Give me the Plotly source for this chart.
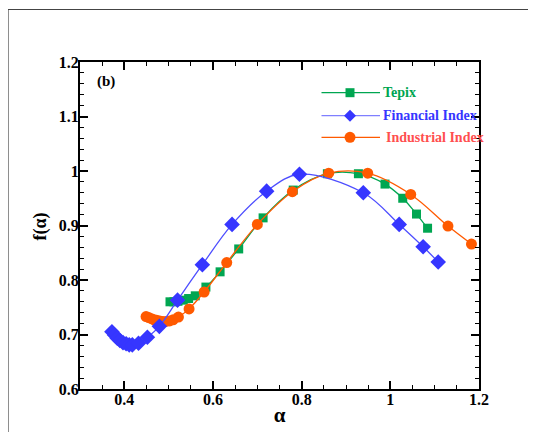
import plotly.graph_objects as go

# ---- data ----
tepix_alpha = [0.503, 0.512, 0.521, 0.533, 0.545, 0.560, 0.584, 0.616, 0.658, 0.713,
               0.781, 0.858, 0.928, 0.988, 1.028, 1.059, 1.084]
tepix_f = [0.760, 0.760, 0.761, 0.763, 0.766, 0.771, 0.787, 0.815, 0.857, 0.914,
           0.965, 0.995, 0.995, 0.976, 0.950, 0.921, 0.895]

fin_alpha = [0.372, 0.378, 0.384, 0.390, 0.397, 0.404, 0.411, 0.418, 0.432, 0.452,
             0.479, 0.520, 0.576, 0.643, 0.721, 0.795, 0.939, 1.020, 1.074, 1.108]
fin_f = [0.705, 0.699, 0.693, 0.689, 0.685, 0.683, 0.681, 0.681, 0.684, 0.695,
         0.715, 0.763, 0.828, 0.902, 0.963, 0.994, 0.960, 0.902, 0.861, 0.833]

ind_alpha = [0.449, 0.455, 0.461, 0.467, 0.473, 0.480, 0.487, 0.494, 0.502, 0.510,
             0.522, 0.546, 0.580, 0.631, 0.700, 0.779, 0.861, 0.949, 1.046, 1.130, 1.183]
ind_f = [0.733, 0.731, 0.729, 0.727, 0.726, 0.725, 0.724, 0.724, 0.725, 0.727,
         0.732, 0.747, 0.778, 0.832, 0.902, 0.962, 0.996, 0.996, 0.957, 0.899, 0.866]

x_ticks = [0.4, 0.6, 0.8, 1.0, 1.2]
x_tick_labels = ["0.4", "0.6", "0.8", "1", "1.2"]
y_ticks = [0.6, 0.7, 0.8, 0.9, 1.0, 1.1, 1.2]
y_tick_labels = ["0.6", "0.7", "0.8", "0.9", "1", "1.1", "1.2"]

series_names = ["Tepix", "Financial Index", "Industrial Index"]
x_title = "α"
y_title = "f(α)"
panel_label = "(b)"

GREEN = "#00A651"
BLUE = "#3636FF"
BLUE_LINE = "#4E4EFF"
ORANGE = "#FF5A00"
IND_TEXT = "#FF4F4F"
FONT = "Times New Roman, Liberation Serif, serif"

fig = go.Figure()
fig.add_trace(go.Scatter(x=tepix_alpha, y=tepix_f, mode="lines+markers",
                         line=dict(color=GREEN, width=1.3, shape="spline"),
                         marker=dict(symbol="square", size=9, color=GREEN),
                         name=series_names[0], showlegend=False, cliponaxis=False))
fig.add_trace(go.Scatter(x=ind_alpha, y=ind_f, mode="lines+markers",
                         line=dict(color=ORANGE, width=1.3, shape="spline"),
                         marker=dict(symbol="circle", size=11, color=ORANGE),
                         name=series_names[2], showlegend=False, cliponaxis=False))
fig.add_trace(go.Scatter(x=fin_alpha, y=fin_f, mode="lines+markers",
                         line=dict(color=BLUE_LINE, width=1.3, shape="spline"),
                         marker=dict(symbol="diamond", size=12, color=BLUE),
                         name=series_names[1], showlegend=False, cliponaxis=False))

# page has an 8px body margin; positions below are window pixels
OFF = 8
W, H = 536, 432
L, R, T, B = 80 - OFF, 479 - OFF, 62 - OFF, 389 - OFF


def px(x):
    return (x - OFF - L) / (R - L)


def py(y):
    return (B - (y - OFF)) / (B - T)


shapes = []
annotations = []

# outer frame
shapes.append(dict(type="rect", xref="paper", yref="paper",
                   x0=px(8), x1=px(580), y0=py(470), y1=py(9.5),
                   line=dict(color="#444444", width=1.2), fillcolor="rgba(0,0,0,0)", layer="below"))

# custom legend
leg_rows = [92.7, 115.7, 137.3]
leg_line_colors = [GREEN, "#7F7FFF", ORANGE]
leg_marker_colors = [GREEN, BLUE, ORANGE]
leg_text_colors = [GREEN, BLUE, IND_TEXT]
leg_text_x = [380.5, 380.5, 383.5]
for i, yy in enumerate(leg_rows):
    shapes.append(dict(type="line", xref="paper", yref="paper",
                       x0=px(321.5), x1=px(380), y0=py(yy), y1=py(yy),
                       line=dict(color=leg_line_colors[i], width=1.3)))
    if i == 0:
        shapes.append(dict(type="rect", xref="paper", yref="paper",
                           xsizemode="pixel", ysizemode="pixel",
                           xanchor=px(350), yanchor=py(yy),
                           x0=-4.5, x1=4.5, y0=-4.5, y1=4.5,
                           fillcolor=leg_marker_colors[i], line=dict(width=0)))
    elif i == 1:
        shapes.append(dict(type="path", xref="paper", yref="paper",
                           xsizemode="pixel", ysizemode="pixel",
                           xanchor=px(350), yanchor=py(yy),
                           path="M-6,0 L0,6 L6,0 L0,-6 Z",
                           fillcolor=leg_marker_colors[i], line=dict(width=0)))
    else:
        shapes.append(dict(type="circle", xref="paper", yref="paper",
                           xsizemode="pixel", ysizemode="pixel",
                           xanchor=px(350), yanchor=py(yy),
                           x0=-5.5, x1=5.5, y0=-5.5, y1=5.5,
                           fillcolor=leg_marker_colors[i], line=dict(width=0)))
    annotations.append(dict(xref="paper", yref="paper", x=px(leg_text_x[i]), y=py(yy),
                            xanchor="left", yanchor="middle", showarrow=False,
                            text="<b>%s</b>" % series_names[i],
                            font=dict(family=FONT, size=14, color=leg_text_colors[i])))

annotations.append(dict(xref="paper", yref="paper", x=px(95), y=py(81),
                        xanchor="left", yanchor="middle", showarrow=False,
                        text="<b>%s</b>" % panel_label, font=dict(family=FONT, size=15, color="black")))

# y-axis title placed as rotated text
annotations.append(dict(xref="paper", yref="paper", x=px(39.5), y=py(227),
                        xanchor="center", yanchor="middle", showarrow=False, textangle=-90,
                        text="<b>%s</b>" % y_title, font=dict(family=FONT, size=18, color="black")))

axis_common = dict(
    showline=True, linecolor="black", linewidth=2, mirror="allticks",
    ticks="inside", ticklen=8, tickwidth=2, tickcolor="black",
    showgrid=False, zeroline=False,
    tickfont=dict(family=FONT, size=16, color="black"),
)

fig.update_layout(
    width=W, height=H,
    margin=dict(l=L, r=W - R, t=T, b=H - B),
    paper_bgcolor="white", plot_bgcolor="white",
    font=dict(family=FONT, color="black"),
    shapes=shapes, annotations=annotations,
    xaxis=dict(range=[0.3, 1.2], tickvals=x_ticks, ticktext=["<b>%s</b>" % t for t in x_tick_labels],
               minor=dict(dtick=0.05, ticks="inside", ticklen=4, tickwidth=1, tickcolor="black"),
               ticklabelstandoff=-5,
               title=dict(text="<b>%s</b>" % x_title, font=dict(family=FONT, size=21), standoff=0),
               **axis_common),
    yaxis=dict(range=[0.6, 1.2], tickvals=y_ticks, ticktext=["<b>%s</b>" % t for t in y_tick_labels],
               minor=dict(dtick=0.02, ticks="inside", ticklen=4, tickwidth=1, tickcolor="black"),
               ticklabelstandoff=-4,
               **axis_common),
)

fig.write_html("out.html")
